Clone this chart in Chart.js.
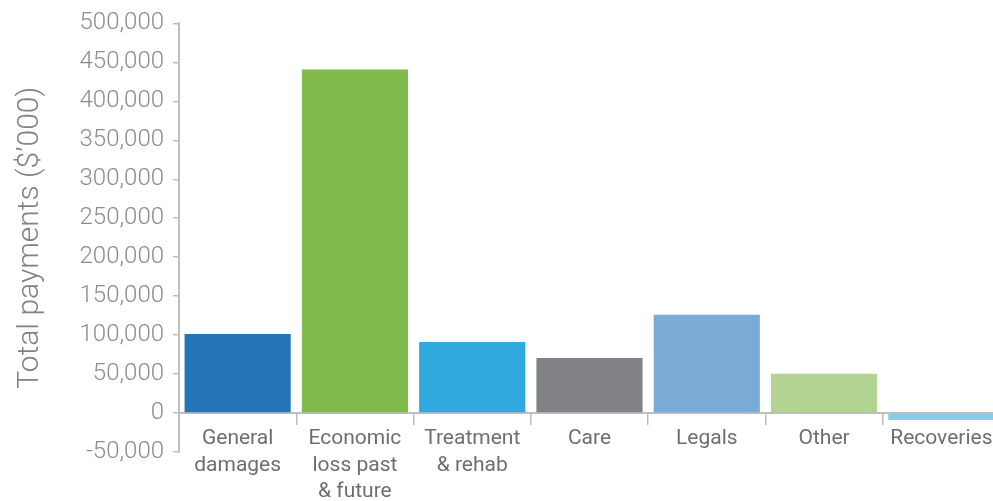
<!DOCTYPE html>
<html>
<head>
<meta charset="utf-8">
<script src="https://cdn.jsdelivr.net/npm/chart.js@4"></script>
<style>
  html, body { margin: 0; padding: 0; background: #fff; overflow: hidden; }
  #wrap { width: 1000px; height: 501px; }
</style>
</head>
<body>
<div id="wrap"><canvas id="grafico"></canvas></div>
<script>
// categorie e totali pagati (in migliaia di dollari)
var categorie = [
    ["General", "damages"],
    ["Economic", "loss past", "& future"],
    ["Treatment", "& rehab"],
    "Care",
    "Legals",
    "Other",
    "Recoveries"
];
var pagamenti = [101500, 441000, 91000, 70500, 126000, 50500, -9000];
var colori = ["#2474b8", "#80ba4a", "#2fa9de", "#808285", "#7aabd6", "#b2d492", "#87cdeb"];
var asseMin = -50000;
var asseMax = 500000;
var asseStep = 50000;
var titoloY = "Total payments ($\u2019000)";

var grigioAsse = "#bcbec0";

var ctx = document.getElementById("grafico").getContext("2d");
var chart = new Chart(ctx, {
    type: "bar",
    data: {
        labels: categorie,
        datasets: [{
            data: pagamenti,
            backgroundColor: colori,
            borderWidth: 0,
            categoryPercentage: 1,
            barPercentage: 0.905
        }]
    },
    options: {
        responsive: true,
        maintainAspectRatio: false,
        animation: false,
        layout: { padding: { top: 12, bottom: 49, right: 0, left: 0 } },
        plugins: {
            legend: { display: false },
            tooltip: { enabled: false }
        },
        scales: {
            x: {
                position: { y: 0 },
                offset: true,
                grid: {
                    offset: true,
                    drawOnChartArea: false,
                    drawTicks: true,
                    tickLength: 11,
                    color: grigioAsse,
                    lineWidth: 1.5
                },
                border: { display: true, color: grigioAsse, width: 2 },
                ticks: {
                    color: "#6d6e71",
                    padding: 2,
                    maxRotation: 0,
                    autoSkip: false,
                    font: { family: "Roboto", size: 21, lineHeight: 1.25 }
                }
            },
            y: {
                min: asseMin,
                max: asseMax,
                afterFit: function (scale) { scale.width = 179; },
                grid: {
                    drawOnChartArea: false,
                    drawTicks: true,
                    tickLength: 6,
                    color: grigioAsse,
                    lineWidth: 1.5
                },
                border: { display: true, color: grigioAsse, width: 2 },
                ticks: {
                    stepSize: asseStep,
                    color: "#8a8c8f",
                    padding: 9,
                    font: { family: "Roboto", size: 24, weight: "300" },
                    callback: function (v) { return v.toLocaleString("en-US"); }
                },
                title: {
                    display: true,
                    text: titoloY,
                    color: "#808285",
                    padding: { top: 12, bottom: 0 },
                    font: { family: "Roboto", size: 30, weight: "300" }
                }
            }
        }
    }
});
</script>
</body>
</html>
